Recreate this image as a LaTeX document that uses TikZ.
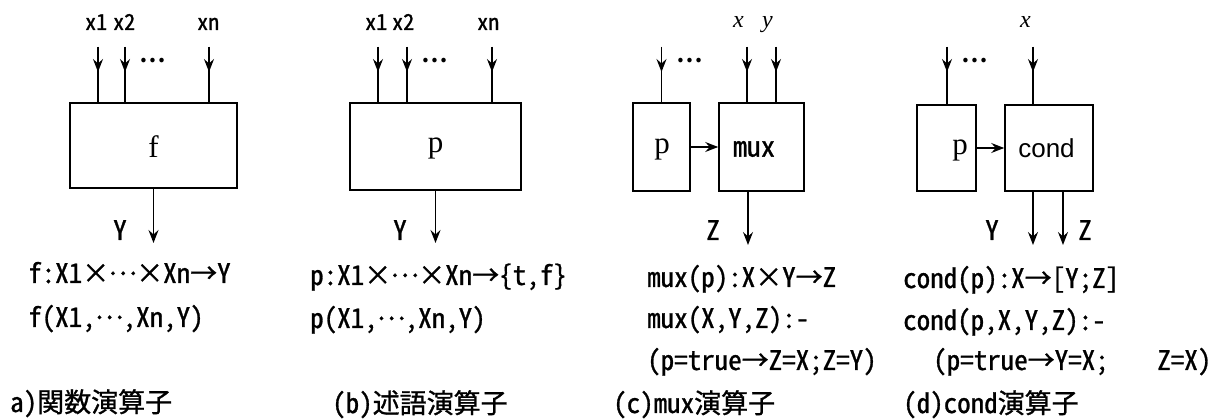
\documentclass[tikz,border=0pt]{standalone}
\usepackage{fontspec}
\usetikzlibrary{arrows.meta}
\newfontfamily\jph[RawFeature=+hwid,FakeBold=1]{Noto Sans CJK JP}
\newfontfamily\jpf[FakeBold=1]{Noto Sans CJK JP}
\newfontfamily\jpb{Noto Sans CJK JP Bold}
\newfontfamily\serif{Liberation Serif}
\newfontfamily\sans{Liberation Sans}
\newcommand{\tm}{\makebox[1em]{\jpf ×}}
\newcommand{\ar}{\makebox[1em]{\jpf →}}
\newcommand{\el}{\makebox[1em]{\raisebox{0.3em}{\jpf …}}}
\begin{document}
\begin{tikzpicture}[x=1pt,y=-1pt,
  box/.style={draw,line width=1.6pt,inner sep=0pt},
  wire/.style={line width=1.5pt},
  tip/.style={line width=1.5pt,-{Stealth[length=13pt,width=10pt,inset=4.5pt]}},
  fml/.style={anchor=base west,inner sep=0pt,font=\jph\fontsize{27}{27}\selectfont},
  lbl/.style={anchor=base,inner sep=0pt,font=\jph\fontsize{27}{27}\selectfont},
  top/.style={anchor=base west,inner sep=0pt,font=\jph\fontsize{22}{22}\selectfont},
  itl/.style={anchor=base west,inner sep=0pt,font=\serif\itshape\fontsize{24}{24}\selectfont},
  dots/.style={inner sep=0pt,font=\jpb\fontsize{24}{24}\selectfont},
  inlbl/.style={inner sep=0pt,font=\serif\fontsize{31}{31}\selectfont}
]
\useasboundingbox (0,0) rectangle (1221,419);

% ---------- (a) ----------
\node[box,minimum width=167pt,minimum height=85pt] (fa) at (153.5,145.5) {};
\node[inlbl] (fal) at (153.5,147) {f};
\node[top] (ax1) at (85,30) {x1};
\node[top] (ax2) at (113,30) {x2};
\node[top] (axn) at (197,30) {xn};
\node[dots] (adots) at (153,61) {…};
\coordinate (ai1) at (98,47);
\coordinate (ai2) at (125,47);
\coordinate (ai3) at (209,47);
\foreach \c in {ai1,ai2,ai3}{
  \draw[wire] (\c) -- (\c |- fa.north);
  \draw[tip] (\c) -- ++(0,25);
}
\coordinate (ao) at (153.5,243);
\draw[tip] (fa.south) -- (ao);
\node[lbl] (aY) at (120,240) {Y};
\node[fml] (a1) at (28,283) {f:X1\tm\el\tm Xn\ar Y};
\node[fml] (a2) at (28,327) {f(X1,\el,Xn,Y)};
\node[fml] (acap) at (10,412) {a)関数演算子};

% ---------- (b) ----------
\node[box,minimum width=171pt,minimum height=87pt] (fb) at (435.5,146.5) {};
\node[inlbl] (fbl) at (435.5,148) {p};
\node[top] (bx1) at (365,30) {x1};
\node[top] (bx2) at (392,30) {x2};
\node[top] (bxn) at (477,30) {xn};
\node[dots] (bdots) at (435,61) {…};
\coordinate (bi1) at (378,47);
\coordinate (bi2) at (407,47);
\coordinate (bi3) at (492,47);
\foreach \c in {bi1,bi2,bi3}{
  \draw[wire] (\c) -- (\c |- fb.north);
  \draw[tip] (\c) -- ++(0,25);
}
\coordinate (bo) at (435.5,243);
\draw[tip] (fb.south) -- (bo);
\node[lbl] (bY) at (400,240) {Y};
\node[fml] (b1) at (310,285) {p:X1\tm\el\tm Xn\ar\{t,f\}};
\node[fml] (b2) at (310,328) {p(X1,\el,Xn,Y)};
\node[fml] (bcap) at (332,413) {(b)述語演算子};

% ---------- (c) ----------
\node[box,minimum width=57pt,minimum height=88pt] (cp) at (661.5,147) {};
\node[box,minimum width=85pt,minimum height=88pt] (mux) at (761.5,147) {};
\node[inlbl] (cpl) at (662,149) {p};
\node[inner sep=0pt,font=\jph\fontsize{28}{28}\selectfont] (muxl) at (754,149) {mux};
\draw[tip] (cp.east) -- (mux.west);
\node[itl] (cx) at (733,28) {x};
\node[itl] (cy) at (762,28) {y};
\node[dots] (cdots) at (690,61) {…};
\coordinate (ci1) at (661.5,47);
\coordinate (ci2) at (747,47);
\coordinate (ci3) at (776,47);
\draw[wire] (ci1) -- (ci1 |- cp.north);
\draw[tip] (ci1) -- ++(0,25);
\foreach \c in {ci2,ci3}{
  \draw[wire] (\c) -- (\c |- mux.north);
  \draw[tip] (\c) -- ++(0,25);
}
\coordinate (co) at (748,245);
\draw[tip] (co |- mux.south) -- (co);
\node[lbl] (cZ) at (713,240) {Z};
\node[fml] (c1) at (647,287) {mux(p):X\tm Y\ar Z};
\node[fml] (c2) at (647,328) {mux(X,Y,Z):-};
\node[fml] (c3) at (647,370) {(p=true\ar Z=X;Z=Y)};
\node[fml] (ccap) at (613,413) {(c)mux演算子};

% ---------- (d) ----------
\node[box,minimum width=59pt,minimum height=86pt] (dp) at (946.5,148) {};
\node[box,minimum width=88pt,minimum height=86pt] (cond) at (1049,148) {};
\node[inlbl] (dpl) at (960,150) {p};
\node[inner sep=0pt,font=\sans\fontsize{26}{26}\selectfont] (condl) at (1046.5,148) {cond};
\draw[tip] (dp.east) -- (cond.west);
\node[itl] (dx) at (1020,28) {x};
\node[dots] (ddots) at (975,61) {…};
\coordinate (di1) at (947,47);
\coordinate (di2) at (1033,47);
\draw[wire] (di1) -- (di1 |- dp.north);
\draw[tip] (di1) -- ++(0,25);
\draw[wire] (di2) -- (di2 |- cond.north);
\draw[tip] (di2) -- ++(0,25);
\coordinate (do1) at (1033,245);
\coordinate (do2) at (1063,245);
\draw[tip] (do1 |- cond.south) -- (do1);
\draw[tip] (do2 |- cond.south) -- (do2);
\node[lbl] (dY) at (992,240) {Y};
\node[lbl] (dZ) at (1085,240) {Z};
\node[fml] (d1) at (903,288) {cond(p):X\ar[Y;Z]};
\node[fml] (d2) at (903,330) {cond(p,X,Y,Z):-};
\node[fml] (d3) at (933,370) {(p=true\ar Y=X;\hspace{1.8em}Z=X)};
\node[fml] (dcap) at (903,413) {(d)cond演算子};
\end{tikzpicture}
\end{document}
